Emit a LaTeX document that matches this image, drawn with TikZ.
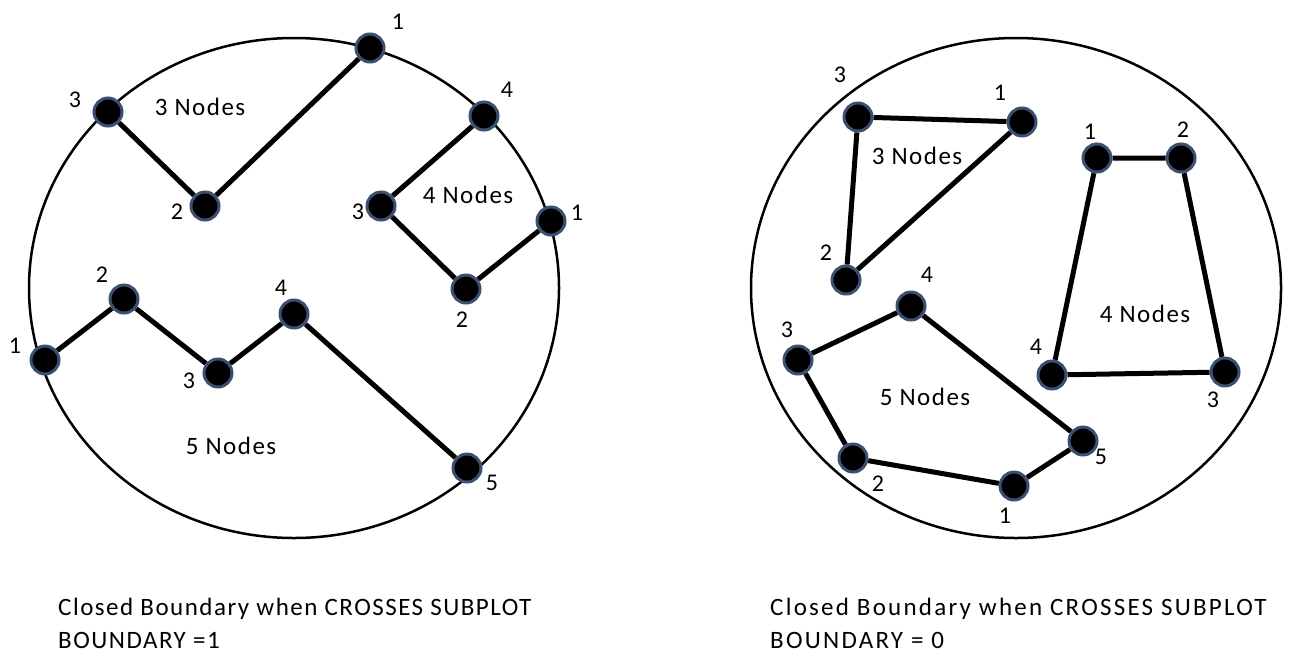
\documentclass[tikz,border=0pt]{standalone}
\usepackage{fontspec}
\setmainfont{Carlito}
\usetikzlibrary{shapes.geometric}
\definecolor{rim}{RGB}{58,80,112}

\begin{document}
\begin{tikzpicture}
[x=1pt,y=-1pt,
dot/.style={circle,draw=rim,fill=black,line width=3pt,minimum size=28pt,inner sep=0pt},
num/.style={font=\fontsize{24}{28}\selectfont,inner sep=0pt},
lbl/.style={font=\fontsize{25}{30}\selectfont\addfontfeature{LetterSpace=6},inner sep=0pt},
captext/.style={font=\fontsize{25}{33}\selectfont\addfontfeature{LetterSpace=6},align=left,inner sep=0pt,anchor=north west},
edge/.style={line width=5pt},
plot/.style={ellipse,draw=black,line width=2.5pt,minimum width=530pt,minimum height=500pt,inner sep=0pt}]
\useasboundingbox (0,0) rectangle (1289,654);

% left subplot, boundary crossed
\node[plot] at (294,288) (pl) {};
\node[dot] at (370,48) (a1) {};
\node[dot] at (205,206) (a2) {};
\node[dot] at (108,112) (a3) {};
\node[num] at (398,22) (ta1) {1};
\node[num] at (177,212) (ta2) {2};
\node[num] at (75,100) (ta3) {3};
\node[lbl] at (200,107) (na) {3 Nodes};
\draw[edge] (a1) -- (a2) -- (a3);

\node[dot] at (551,221) (b1) {};
\node[dot] at (466,289) (b2) {};
\node[dot] at (381,206) (b3) {};
\node[dot] at (484,116) (b4) {};
\node[num] at (577,213) (tb1) {1};
\node[num] at (462,320) (tb2) {2};
\node[num] at (358,212) (tb3) {3};
\node[num] at (507,90) (tb4) {4};
\node[lbl] at (468,195) (nb) {4 Nodes};
\draw[edge] (b1) -- (b2) -- (b3) -- (b4);

\node[dot] at (45,360) (c1) {};
\node[dot] at (124,299) (c2) {};
\node[dot] at (218,373) (c3) {};
\node[dot] at (294,314) (c4) {};
\node[dot] at (467,468) (c5) {};
\node[num] at (15,346) (tc1) {1};
\node[num] at (102,275) (tc2) {2};
\node[num] at (189,381) (tc3) {3};
\node[num] at (281,288) (tc4) {4};
\node[num] at (492,483) (tc5) {5};
\node[lbl] at (231,446) (nc) {5 Nodes};
\draw[edge] (c1) -- (c2) -- (c3) -- (c4) -- (c5);

\node[captext] at (58,598) (capl) {Closed Boundary when CROSSES SUBPLOT\\BOUNDARY =1};

% right subplot, boundary kept
\node[plot] at (1016,288) (pr) {};
\node[dot] at (1022,122) (d1) {};
\node[dot] at (846,280) (d2) {};
\node[dot] at (858,117) (d3) {};
\node[num] at (1000,93) (td1) {1};
\node[num] at (826,253) (td2) {2};
\node[num] at (840,75) (td3) {3};
\node[lbl] at (917,156) (nd) {3 Nodes};
\draw[edge] (d1) -- (d2) -- (d3) -- (d1);

\node[dot] at (1097,158) (e1) {};
\node[dot] at (1181,158) (e2) {};
\node[dot] at (1225,372) (e3) {};
\node[dot] at (1052,375) (e4) {};
\node[num] at (1090,132) (te1) {1};
\node[num] at (1183,130) (te2) {2};
\node[num] at (1213,400) (te3) {3};
\node[num] at (1036,347) (te4) {4};
\node[lbl] at (1145,314) (ne) {4 Nodes};
\draw[edge] (e1) -- (e2) -- (e3) -- (e4) -- (e1);

\node[dot] at (1014,486) (f1) {};
\node[dot] at (853,458) (f2) {};
\node[dot] at (798,360) (f3) {};
\node[dot] at (911,306) (f4) {};
\node[dot] at (1083,441) (f5) {};
\node[num] at (1005,516) (tf1) {1};
\node[num] at (878,484) (tf2) {2};
\node[num] at (787,330) (tf3) {3};
\node[num] at (927,275) (tf4) {4};
\node[num] at (1101,457) (tf5) {5};
\node[lbl] at (925,397) (nf) {5 Nodes};
\draw[edge] (f1) -- (f2) -- (f3) -- (f4) -- (f5) -- (f1);

\node[captext,font=\fontsize{25}{33}\selectfont\addfontfeature{LetterSpace=9}] at (770,598) (capr) {Closed Boundary when CROSSES SUBPLOT\\BOUNDARY = 0};
\end{tikzpicture}
\end{document}
